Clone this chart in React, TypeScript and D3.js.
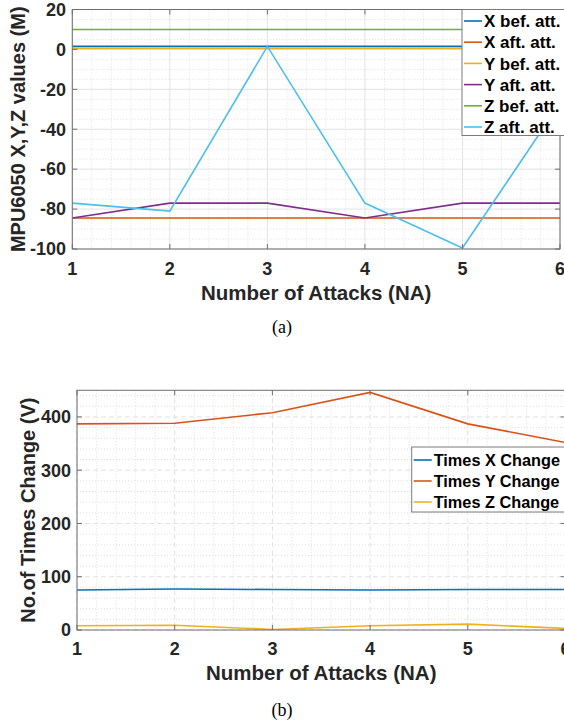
import React from "react";
import * as d3 from "d3";

const attacks = [1, 2, 3, 4, 5, 6];

const topSeriesNames = ["X bef. att.", "X aft. att.", "Y bef. att.", "Y aft. att.", "Z bef. att.", "Z aft. att."];
const xBefore = [1.5, 1.5, 1.5, 1.5, 1.5, 1.5];
const xAfter = [-84.5, -84.5, -84.5, -84.5, -84.5, -84.5];
const yBefore = [0.5, 0.5, 0.5, 0.5, 0.5, 0.5];
const yAfter = [-84.5, -77, -77, -84.5, -77, -77];
const zBefore = [10, 10, 10, 10, 10, 10];
const zAfter = [-77, -81, 1.5, -77, -99.5, -27];

const bottomSeriesNames = ["Times X Change", "Times Y Change", "Times Z Change"];
const timesX = [75, 77, 76, 75, 76, 76];
const timesY = [387, 388, 408, 446, 387, 352];
const timesZ = [8, 9, 1, 8, 11, 3];

const topYTicks = [-100, -80, -60, -40, -20, 0, 20];
const bottomYTicks = [0, 100, 200, 300, 400];

const colors = ["#0072BD", "#D95319", "#EDB120", "#7E2F8E", "#77AC30", "#4DBEEE"];
const FONT = "'Liberation Sans', Arial, Helvetica, sans-serif";
const AXIS = "#6e6e6e";
const TEXT = "#262626";

type PanelProps = {
  left: number; right: number; top: number; bottom: number;
  yDomain: [number, number]; yTicks: number[]; yMinorStep: number;
  series: number[][]; seriesColors: string[]; names: string[];
  majorDash?: string;
  yLabel: string; yLabelX: number;
  xLabelY: number; xTitleY: number; yTickRight: number;
  legend: { x: number; y: number; w: number; h: number; row0: number; rowH: number; font: number };
  caption: string; captionY: number;
};

function Panel(p: PanelProps) {
  const x = d3.scaleLinear().domain([1, 6]).range([p.left, p.right]);
  const y = d3.scaleLinear().domain(p.yDomain).range([p.bottom, p.top]);
  const line = d3.line<number>().x((_, i) => x(attacks[i])).y((d) => y(d));
  const minorX = d3.range(1, 6.0001, 0.2).filter((v) => Math.abs(v - Math.round(v)) > 1e-6);
  const minorY = d3.range(p.yDomain[0], p.yDomain[1] + 1e-6, p.yMinorStep).filter((v) => !p.yTicks.includes(Math.round(v)));
  const clipId = "clip" + p.top;
  return (
    <g>
      <defs>
        <clipPath id={clipId}>
          <rect x={p.left} y={p.top} width={p.right - p.left} height={p.bottom - p.top} />
        </clipPath>
      </defs>
      <rect x={p.left} y={p.top} width={p.right - p.left} height={p.bottom - p.top} fill="#fff" />
      {minorX.map((v) => (
        <line key={"mx" + v} x1={x(v)} x2={x(v)} y1={p.top} y2={p.bottom} stroke="#d8d8d8" strokeWidth={0.8} strokeDasharray="1,2" />
      ))}
      {minorY.map((v) => (
        <line key={"my" + v} x1={p.left} x2={p.right} y1={y(v)} y2={y(v)} stroke="#d8d8d8" strokeWidth={0.8} strokeDasharray="1,2" />
      ))}
      {attacks.map((v) => (
        <line key={"gx" + v} x1={x(v)} x2={x(v)} y1={p.top} y2={p.bottom} stroke="#e2e2e2" strokeWidth={1} strokeDasharray={p.majorDash} />
      ))}
      {p.yTicks.map((v) => (
        <line key={"gy" + v} x1={p.left} x2={p.right} y1={y(v)} y2={y(v)} stroke="#e2e2e2" strokeWidth={1} strokeDasharray={p.majorDash} />
      ))}
      <g clipPath={`url(#${clipId})`}>
        {p.series.map((s, i) => (
          <path key={i} d={line(s) || ""} fill="none" stroke={p.seriesColors[i]} strokeWidth={1.6} />
        ))}
      </g>
      <rect x={p.left} y={p.top} width={p.right - p.left} height={p.bottom - p.top} fill="none" stroke={AXIS} strokeWidth={1} />
      {attacks.map((v) => (
        <g key={"tx" + v}>
          <line x1={x(v)} x2={x(v)} y1={p.bottom} y2={p.bottom - 5} stroke={AXIS} />
          <line x1={x(v)} x2={x(v)} y1={p.top} y2={p.top + 5} stroke={AXIS} />
          <text x={x(v)} y={p.xLabelY} textAnchor="middle" fontFamily={FONT} fontWeight="bold" fontSize={18} fill={TEXT}>{v}</text>
        </g>
      ))}
      {p.yTicks.map((v) => (
        <g key={"ty" + v}>
          <line x1={p.left} x2={p.left + 5} y1={y(v)} y2={y(v)} stroke={AXIS} />
          <line x1={p.right} x2={p.right - 5} y1={y(v)} y2={y(v)} stroke={AXIS} />
          <text x={p.yTickRight} y={y(v)} dy="0.35em" textAnchor="end" fontFamily={FONT} fontWeight="bold" fontSize={18} fill={TEXT}>{v}</text>
        </g>
      ))}
      <text x={(p.left + p.right) / 2} y={p.xTitleY} textAnchor="middle" fontFamily={FONT} fontWeight="bold" fontSize={20.5} fill={TEXT}>Number of Attacks (NA)</text>
      <text transform={`translate(${p.yLabelX},${(p.top + p.bottom) / 2}) rotate(-90)`} dy="0.35em" textAnchor="middle" fontFamily={FONT} fontWeight="bold" fontSize={20} fill={TEXT}>{p.yLabel}</text>
      <rect x={p.legend.x} y={p.legend.y} width={p.legend.w} height={p.legend.h} fill="#fff" stroke="#7a7a7a" strokeWidth={1} />
      {p.names.map((n, i) => {
        const cy = p.legend.row0 + i * p.legend.rowH;
        return (
          <g key={n}>
            <line x1={p.legend.x + 2} x2={p.legend.x + 20} y1={cy} y2={cy} stroke={p.seriesColors[i]} strokeWidth={1.6} />
            <text x={p.legend.x + 22} y={cy} dy="0.36em" fontFamily={FONT} fontWeight="bold" fontSize={p.legend.font} fill="#000">{n}</text>
          </g>
        );
      })}
      <text x={282} y={p.captionY} textAnchor="middle" fontFamily="'Liberation Serif', 'Times New Roman', serif" fontSize={18} fill="#000">{p.caption}</text>
    </g>
  );
}

export default function App() {
  return (
    <svg width={564} height={723} style={{ position: "absolute", left: 0, top: 0, background: "#fff" }}>
      <Panel
        left={72.3} right={560} top={9.5} bottom={249}
        yDomain={[-100, 20]} yTicks={topYTicks} yMinorStep={5}
        series={[xBefore, xAfter, yBefore, yAfter, zBefore, zAfter]}
        seriesColors={colors} names={topSeriesNames}
        yLabel="MPU6050 X,Y,Z values (M)" yLabelX={18}
        xLabelY={275} xTitleY={300} yTickRight={66}
        legend={{ x: 462, y: 9.5, w: 110, h: 126, row0: 21, rowH: 21.2, font: 17 }}
        caption="(a)" captionY={333}
      />
      <Panel
        left={77} right={565.5} top={390.3} bottom={630}
        yDomain={[0, 450]} yTicks={bottomYTicks} yMinorStep={20}
        series={[timesX, timesY, timesZ]}
        seriesColors={colors.slice(0, 3)} names={bottomSeriesNames}
        majorDash="5,3"
        yLabel="No.of Times Change (V)" yLabelX={28}
        xLabelY={655} xTitleY={680} yTickRight={71}
        legend={{ x: 411.7, y: 447, w: 160, h: 65, row0: 460, rowH: 21, font: 16.3 }}
        caption="(b)" captionY={716}
      />
    </svg>
  );
}
